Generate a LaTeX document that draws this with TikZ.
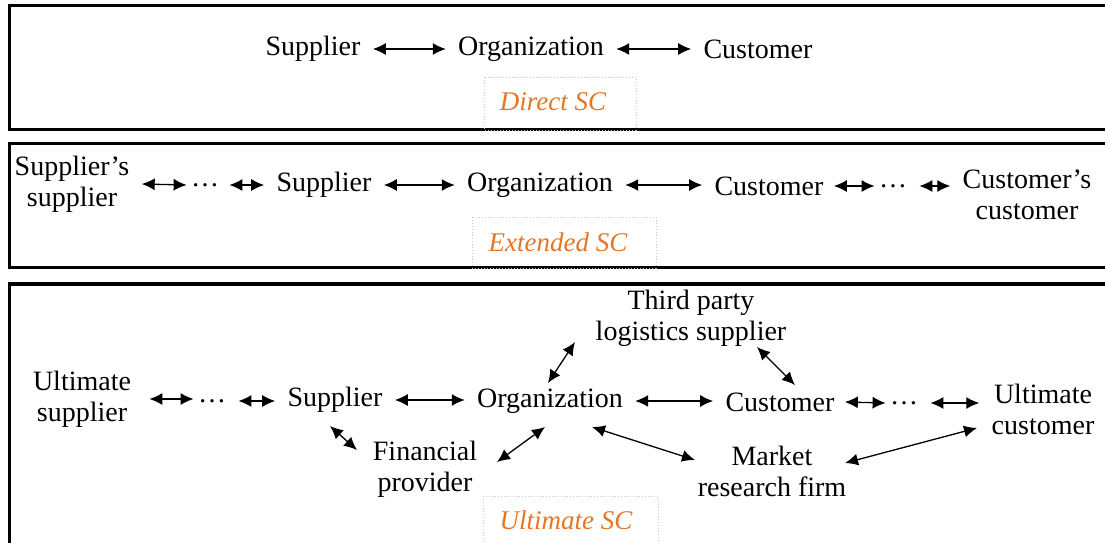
\documentclass[tikz,border=0pt]{standalone}
\usepackage{fontspec}
\setmainfont{Liberation Serif}
\usetikzlibrary{arrows.meta,positioning}
\definecolor{scOrange}{RGB}{228,118,38}
\definecolor{scGray}{gray}{0.78}
\tikzset{
    ent/.style={inner xsep=6pt, inner ysep=0pt, align=center, font=\fontsize{14}{15.5}\selectfont},
    dots/.style={inner sep=2pt, font=\fontsize{14}{15.5}\selectfont},
    link/.style={{Latex[length=6.5pt,width=6pt]}-{Latex[length=6.5pt,width=6pt]}, line width=0.65pt},
    panel/.style={line width=1.8pt},
    tagbox/.style={draw=scGray, densely dotted, line width=0.5pt},
    tag/.style={text=scOrange, font=\fontsize{13.5}{15}\selectfont\itshape}
}

\begin{document}
\begin{tikzpicture}[x=0.5pt,y=-0.5pt]
\useasboundingbox (0,0) rectangle (1105,542);
% the three frames, open to the right
\draw[panel] (1120,5.5) -- (9.5,5.5) -- (9.5,129.5) -- (1120,129.5);
\draw[panel] (1120,143.5) -- (9.5,143.5) -- (9.5,267.5) -- (1120,267.5);
\draw[panel] (1120,284) -- (9.5,284) -- (9.5,560);

% direct SC
\node[ent] (dSup) at (313,49) {Supplier};
\node[ent] (dOrg) at (531,49) {Organization};
\node[ent] (dCus) at (758,49) {Customer};
\draw[link] (dSup.east) -- (dOrg.west);
\draw[link] (dOrg.east) -- (dCus.west);
\draw[tagbox] (484,77) rectangle (636,130);
\node[tag] (dTag) at (553,102) {Direct SC};

% extended SC
\node[ent] (eSupSup) at (72,184) {Supplier’s\\supplier};
\node[dots] (eDotsL) at (205,185) {…};
\node[ent] (eSup) at (324,185) {Supplier};
\node[ent] (eOrg) at (540,185) {Organization};
\node[ent] (eCus) at (769,186) {Customer};
\node[dots] (eDotsR) at (893,186) {…};
\node[ent] (eCusCus) at (1027,195) {Customer’s\\customer};
\draw[link] (eSupSup.east) -- (eDotsL.west);
\draw[link] ([xshift=3pt]eDotsL.east) -- (eSup.west);
\draw[link] (eSup.east) -- (eOrg.west);
\draw[link] (eOrg.east) -- (eOrg.east -| eCus.west);
\draw[link] ([xshift=-1pt]eCus.east) -- (eDotsR.west);
\draw[link] ([xshift=4pt]eDotsR.east) -- (eDotsR -| eCusCus.west);
\draw[tagbox] (472,217) rectangle (656,268);
\node[tag] (eTag) at (558,242) {Extended SC};

% ultimate SC
\node[ent] (uSupSup) at (82,399) {Ultimate\\supplier};
\node[dots] (uDotsL) at (212,401) {…};
\node[ent] (uSup) at (335,400) {Supplier};
\node[ent] (uOrg) at (550,401) {Organization};
\node[ent] (uCus) at (780,402) {Customer};
\node[dots] (uDotsR) at (904,403) {…};
\node[ent] (uCusCus) at (1043,409) {Ultimate\\customer};
\node[ent] (uTpl) at (691,318) {Third party\\logistics supplier};
\node[ent] (uFin) at (425,469) {Financial\\provider};
\node[ent] (uMkt) at (772,471) {Market\\research firm};
\draw[link] ([xshift=3pt]uSupSup.east) -- (uSupSup.east -| uDotsL.west);
\draw[link] ([xshift=4pt]uDotsL.east) -- (uDotsL.east -| uSup.west);
\draw[link] (uSup.east) -- (uSup.east -| uOrg.west);
\draw[link] (uOrg.east) -- (uOrg.east -| uCus.west);
\draw[link] ([xshift=-1pt]uCus.east) -- (uDotsR.west);
\draw[link] ([xshift=4pt]uDotsR.east) -- (uDotsR -| uCusCus.west);
\draw[link] ([shift={(-5,26)}]uSup.center) -- ([shift={(-68,-19)}]uFin.center);
\draw[link] ([shift={(72,-7)}]uFin.center) -- ([shift={(-5,26)}]uOrg.center);
\draw[link] ([shift={(-2,-18)}]uOrg.center) -- ([shift={(-116,24)}]uTpl.center);
\draw[link] ([shift={(66,29)}]uTpl.center) -- ([shift={(15,-17)}]uCus.center);
\draw[link] ([shift={(42,26)}]uOrg.center) -- ([shift={(-77,-11)}]uMkt.center);
\draw[link] ([shift={(73,-8)}]uMkt.center) -- ([shift={(-66,19)}]uCusCus.center);
\draw[tagbox] (483,496) rectangle (658,560);
\node[tag] (uTag) at (566,520) {Ultimate SC};
\end{tikzpicture}
\end{document}
